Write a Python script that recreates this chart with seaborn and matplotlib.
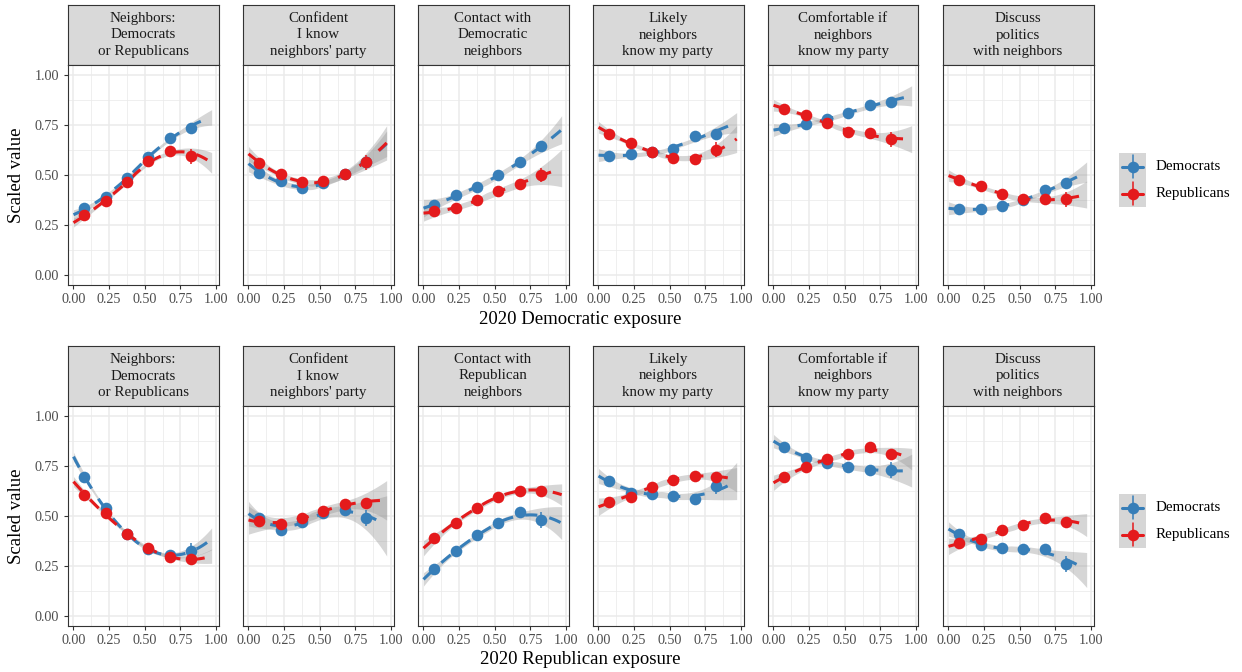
import numpy as np
import pandas as pd
import matplotlib
matplotlib.use("Agg")
import matplotlib.pyplot as plt
import seaborn as sns

# ---------------------------------------------------------------- data
exposure_bins = [0.075, 0.225, 0.375, 0.525, 0.675, 0.825]

labels_dem_exposure = [
    "Neighbors:\nDemocrats\nor Republicans",
    "Confident\nI know\nneighbors' party",
    "Contact with\nDemocratic\nneighbors",
    "Likely\nneighbors\nknow my party",
    "Comfortable if\nneighbors\nknow my party",
    "Discuss\npolitics\nwith neighbors",
]
labels_rep_exposure = [
    "Neighbors:\nDemocrats\nor Republicans",
    "Confident\nI know\nneighbors' party",
    "Contact with\nRepublican\nneighbors",
    "Likely\nneighbors\nknow my party",
    "Comfortable if\nneighbors\nknow my party",
    "Discuss\npolitics\nwith neighbors",
]

# bin means by 2020 Democratic exposure
dem_exp_democrats = [
    [0.333, 0.388, 0.483, 0.590, 0.687, 0.737],
    [0.512, 0.470, 0.435, 0.460, 0.507, 0.565],
    [0.350, 0.398, 0.440, 0.500, 0.565, 0.643],
    [0.593, 0.605, 0.613, 0.632, 0.693, 0.707],
    [0.733, 0.755, 0.780, 0.810, 0.848, 0.867],
    [0.328, 0.331, 0.345, 0.373, 0.423, 0.458],
]
dem_exp_republicans = [
    [0.300, 0.368, 0.463, 0.568, 0.622, 0.593],
    [0.560, 0.507, 0.463, 0.470, 0.507, 0.563],
    [0.318, 0.333, 0.373, 0.420, 0.453, 0.500],
    [0.707, 0.660, 0.615, 0.587, 0.582, 0.627],
    [0.830, 0.800, 0.760, 0.717, 0.708, 0.678],
    [0.473, 0.447, 0.403, 0.382, 0.380, 0.378],
]
# bin means by 2020 Republican exposure
rep_exp_democrats = [
    [0.697, 0.540, 0.410, 0.335, 0.303, 0.323],
    [0.490, 0.430, 0.469, 0.516, 0.530, 0.490],
    [0.234, 0.325, 0.403, 0.464, 0.519, 0.478],
    [0.677, 0.617, 0.612, 0.600, 0.583, 0.652],
    [0.847, 0.790, 0.767, 0.747, 0.730, 0.730],
    [0.408, 0.355, 0.340, 0.333, 0.333, 0.260],
]
rep_exp_republicans = [
    [0.607, 0.515, 0.411, 0.342, 0.293, 0.285],
    [0.477, 0.460, 0.488, 0.524, 0.560, 0.567],
    [0.390, 0.464, 0.542, 0.595, 0.627, 0.627],
    [0.572, 0.597, 0.647, 0.680, 0.700, 0.697],
    [0.693, 0.747, 0.785, 0.810, 0.843, 0.810],
    [0.367, 0.387, 0.430, 0.453, 0.490, 0.468],
]

# respondents per exposure bin
n_dem_exp_democrats = [500, 900, 1300, 1300, 900, 400]
n_dem_exp_republicans = [700, 1300, 1300, 800, 450, 180]
n_rep_exp_democrats = [700, 1100, 1300, 1100, 500, 150]
n_rep_exp_republicans = [450, 900, 1300, 1300, 1000, 500]

# response standard deviation per outcome
sd_dem_exp = [0.20, 0.33, 0.36, 0.26, 0.26, 0.26]
sd_rep_exp = [0.20, 0.55, 0.30, 0.34, 0.30, 0.32]

parties = ["Democrats", "Republicans"]
colors = {"Democrats": "#377EB8", "Republicans": "#E41A1C"}


# ---------------------------------------------------------------- helpers
def local_quadratic(xb, yb, nb, sd, xs, q=6, widen=1.0):
    """Tricube-weighted local quadratic smoother with pointwise 95% band."""
    xb = np.asarray(xb, float)
    yb = np.asarray(yb, float)
    nb = np.asarray(nb, float)
    fit = np.empty_like(xs)
    half = np.empty_like(xs)
    for j, x0 in enumerate(xs):
        d = np.abs(xb - x0)
        h = np.sort(d)[q - 1] * widen + 1e-9
        k = np.clip(1 - (d / h) ** 3, 0, None) ** 3
        w = nb * k
        X = np.column_stack([np.ones_like(xb), xb - x0, (xb - x0) ** 2])
        XtW = X.T * w
        L = np.linalg.solve(XtW @ X, XtW)[0]
        fit[j] = L @ yb
        half[j] = 1.96 * np.sqrt(np.sum(L ** 2 * sd ** 2 / nb))
    return fit, half


W, H = 1242, 672


def px_axes(fig, left, top, width, height):
    return fig.add_axes([left / W, 1 - (top + height) / H, width / W, height / H])


sns.set_theme(style="white")
plt.rcParams["font.family"] = ["Liberation Serif", "DejaVu Serif"]

fig = plt.figure(figsize=(W / 100, H / 100), dpi=100)

rows = [
    dict(strip_top=5, labels=labels_dem_exposure,
         series={"Democrats": (dem_exp_democrats, n_dem_exp_democrats),
                 "Republicans": (dem_exp_republicans, n_dem_exp_republicans)},
         sd=sd_dem_exp, xlabel="2020 Democratic exposure", xlabel_y=319,
         legend_top=153),
    dict(strip_top=346, labels=labels_rep_exposure,
         series={"Democrats": (rep_exp_democrats, n_rep_exp_democrats),
                 "Republicans": (rep_exp_republicans, n_rep_exp_republicans)},
         sd=sd_rep_exp, xlabel="2020 Republican exposure", xlabel_y=660,
         legend_top=494),
]

strip_h, panel_h, panel_w, pitch, left0 = 60, 220, 151, 175, 67.5
grid_col = "#EBEBEB"
frame_col = "#333333"
tick_col = "#4D4D4D"
band_col = "#999999"

xs = np.linspace(0.0, 0.97, 120)

for row in rows:
    for i, label in enumerate(row["labels"]):
        left = left0 + pitch * i
        # facet strip
        sax = px_axes(fig, left, row["strip_top"], panel_w, strip_h)
        sax.set_facecolor("#D9D9D9")
        sax.set_xticks([])
        sax.set_yticks([])
        for sp in sax.spines.values():
            sp.set_color(frame_col)
            sp.set_linewidth(0.8)
        sax.text(0.5, 0.5, label, ha="center", va="center", fontsize=10.8,
                 color="#1A1A1A", linespacing=1.32, transform=sax.transAxes)

        # panel
        ax = px_axes(fig, left, row["strip_top"] + strip_h, panel_w, panel_h)
        ax.set_facecolor("white")
        ax.set_xlim(-0.042, 1.018)
        ax.set_ylim(-0.05, 1.05)
        ticks = [0, 0.25, 0.5, 0.75, 1.0]
        ax.set_xticks(ticks)
        ax.set_yticks(ticks)
        ax.set_xticks([0.125, 0.375, 0.625, 0.875], minor=True)
        ax.set_yticks([0.125, 0.375, 0.625, 0.875], minor=True)
        ax.grid(which="major", color=grid_col, linewidth=1.1)
        ax.grid(which="minor", color=grid_col, linewidth=0.55)
        ax.set_axisbelow(True)
        ax.set_xticklabels([f"{t:.2f}" for t in ticks])
        if i == 0:
            ax.set_yticklabels([f"{t:.2f}" for t in ticks])
        else:
            ax.set_yticklabels([])
        ax.tick_params(which="major", length=2.8, width=0.8, color=frame_col,
                       labelsize=10.2, labelcolor=tick_col, pad=3.2,
                       bottom=True, left=(i == 0))
        ax.tick_params(which="minor", length=0)
        for sp in ax.spines.values():
            sp.set_color(frame_col)
            sp.set_linewidth(0.8)

        # smoothed fits with confidence bands
        fits = {}
        pts = []
        for party in parties:
            vals, counts = row["series"][party]
            yb = vals[i]
            fit, half = local_quadratic(exposure_bins, yb, counts, row["sd"][i], xs)
            fits[party] = fit
            ax.fill_between(xs, fit - half, fit + half, color=band_col,
                            alpha=0.4, linewidth=0, zorder=2)
            pts.append(pd.DataFrame({"x": exposure_bins, "y": yb,
                                     "err": 1.96 * 0.25 / np.sqrt(counts),
                                     "party": party}))
        for party in parties:
            (ln,) = ax.plot(xs, fits[party], color=colors[party], linewidth=2.2,
                            zorder=3)
            ln.set_dashes([4, 4])

        df = pd.concat(pts, ignore_index=True)
        for party in parties:
            d = df[df["party"] == party]
            ax.errorbar(d["x"], d["y"], yerr=d["err"], fmt="none",
                        ecolor=colors[party], elinewidth=1.1, capsize=0, zorder=4)
            sns.scatterplot(data=d, x="x", y="y", color=colors[party], s=70,
                            linewidth=0, ax=ax, zorder=5, legend=False)
        ax.set_xlabel("")
        ax.set_ylabel("")

    # row titles
    panels_mid = row["strip_top"] + strip_h + panel_h / 2
    fig.text(17 / W, 1 - panels_mid / H, "Scaled value", rotation=90,
             ha="center", va="center", fontsize=13.5, color="black")
    fig.text((left0 + (left0 + pitch * 5 + panel_w)) / 2 / W,
             1 - row["xlabel_y"] / H, row["xlabel"], ha="center", va="center",
             fontsize=13.5, color="black")

    # legend
    lax = px_axes(fig, 1119, row["legend_top"], 27, 54)
    lax.set_facecolor("#D6D6D6")
    lax.set_xlim(0, 1)
    lax.set_ylim(0, 2)
    lax.set_xticks([])
    lax.set_yticks([])
    for sp in lax.spines.values():
        sp.set_visible(False)
    for k, party in enumerate(parties):
        yc = 1.5 - k
        lax.plot([0.1, 0.9], [yc, yc], color=colors[party], linewidth=2.2)
        lax.plot([0.5, 0.5], [yc - 0.42, yc + 0.42], color=colors[party],
                 linewidth=1.1)
        lax.scatter([0.5], [yc], s=70, color=colors[party], linewidth=0, zorder=3)
        fig.text(1156 / W, 1 - (row["legend_top"] + 13.5 + 27 * k) / H, party,
                 ha="left", va="center", fontsize=10.8, color="black")

fig.savefig("out.png", dpi=100, facecolor="white")
